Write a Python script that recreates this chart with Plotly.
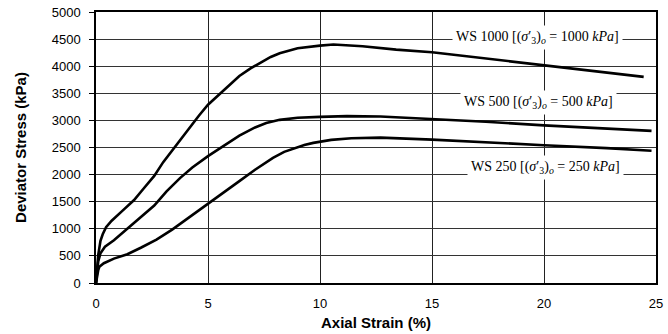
import plotly.graph_objects as go

# Axial strain (%) and deviator stress (kPa)
ws1000_x = [0, 0.05, 0.1, 0.2, 0.3, 0.45, 0.7, 1.2, 1.7, 2.1, 2.6, 3.0, 3.6, 4.2, 4.6, 5.0, 5.7, 6.4, 6.9, 7.3, 7.8,
            8.2, 9.0, 10.0, 10.6, 11.9, 13.4, 15.0, 16.3, 17.4, 18.4, 20.0, 21.3, 22.8, 24.45]
ws1000_y = [0, 300, 520, 780, 900, 1030, 1150, 1340, 1530, 1730, 1975, 2230, 2560, 2880, 3090, 3290, 3560, 3820, 3960, 4060, 4170,
            4240, 4330, 4379, 4400, 4367, 4306, 4258, 4197, 4136, 4088, 4015, 3955, 3882, 3803]

ws500_x = [0, 0.05, 0.1, 0.2, 0.4, 0.8, 1.4, 2.0, 2.6, 3.15, 3.75, 4.3, 5.0, 5.7, 6.4, 7.1, 7.6, 8.2, 9.0,
           10.0, 11.2, 12.7, 15.0, 17.4, 20.0, 22.8, 24.8]
ws500_y = [0, 250, 400, 550, 670, 790, 1000, 1215, 1430, 1690, 1935, 2130, 2340, 2530, 2720, 2870, 2950, 3010, 3050,
           3065, 3079, 3073, 3030, 2976, 2909, 2848, 2806]

ws250_x = [0, 0.05, 0.1, 0.15, 0.35, 0.8, 1.4, 2.0, 2.7, 3.4, 4.2, 5.0, 5.7, 6.4, 7.1, 7.9, 8.4, 8.8, 9.3, 9.7,
           10.5, 11.4, 12.7, 15.0, 17.4, 20.0, 22.8, 24.8]
ws250_y = [0, 150, 240, 300, 365, 450, 530, 650, 800, 985, 1220, 1460, 1670, 1880, 2090, 2310, 2420, 2480, 2545, 2585,
           2640, 2672, 2682, 2645, 2591, 2542, 2488, 2440]

labels = [
    "WS 1000 [(<i>σ</i>′<sub>3</sub>)<sub><i>o</i></sub> = 1000 <i>kPa</i>]",
    "WS 500 [(<i>σ</i>′<sub>3</sub>)<sub><i>o</i></sub> = 500 <i>kPa</i>]",
    "WS 250 [(<i>σ</i>′<sub>3</sub>)<sub><i>o</i></sub> = 250 <i>kPa</i>]",
]
label_x = [19.7, 19.75, 20.05]
label_y = [4530, 3330, 2130]

fig = go.Figure()
for xs, ys in [(ws1000_x, ws1000_y), (ws500_x, ws500_y), (ws250_x, ws250_y)]:
    fig.add_trace(go.Scatter(x=xs, y=ys, mode="lines",
                             line=dict(color="black", width=2.6),
                             showlegend=False, hoverinfo="skip"))

for t, lx, ly in zip(labels, label_x, label_y):
    fig.add_annotation(x=lx, y=ly, text=t, showarrow=False, bgcolor="white", borderpad=3,
                       font=dict(family="Liberation Serif", size=14, color="black"))

fig.update_layout(
    width=668, height=334,
    margin=dict(l=96, r=5, t=9, b=51),
    paper_bgcolor="white", plot_bgcolor="white",
    font=dict(family="Liberation Sans", size=13, color="black"),
    xaxis=dict(range=[0, 25], dtick=5, tick0=0, showgrid=True, gridcolor="#222", gridwidth=1,
               showline=True, linecolor="black", linewidth=1.5, zeroline=False, ticks="",
               ticklabelstandoff=8, ticklabeloverflow="allow", mirror=True,
               title=dict(text="<b>Axial Strain (%)</b>", font=dict(size=15), standoff=7)),
    yaxis=dict(range=[0, 5000], dtick=500, tick0=0, showgrid=True, gridcolor="#333", gridwidth=1,
               showline=True, linecolor="black", linewidth=1.5, zeroline=False, ticks="outside",
               ticklen=5, tickcolor="black", ticklabelstandoff=6, mirror=True,
               title=dict(text="<b>Deviator Stress (kPa)</b>", font=dict(size=15), standoff=21)),
)

fig.write_html("out.html")
